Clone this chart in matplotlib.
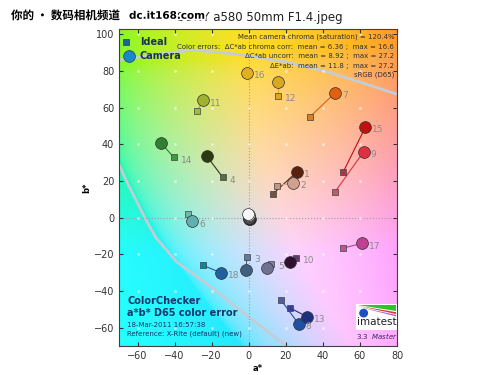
"""ColorChecker a*b* color error plot (imatest style) for SONY a580 50mm F1.4."""
import numpy as np
import matplotlib
matplotlib.use("Agg")
import matplotlib.pyplot as plt
from matplotlib import patheffects
from matplotlib.patches import Rectangle, Polygon, Circle

# patch numbers and a*b* values (ideal = square, camera = circle)
PATCH = list(range(1, 25))
IDEAL_A = [13, 15, -1, -14, 12, -33, 33, 17.5, 46.5, 25.5, -28, 16, 22, -40.5, 51, -2, 51, -24.5,
           0, 0, 0, 0, 0, 0]
IDEAL_B = [13, 17.5, -21.5, 22, -25, 2, 55, -45, 14, -22, 58, 66.5, -49, 33, 25, 79, -16.5, -26,
           1, 0.5, 0, 0, 0, -0.5]
CAM_A = [26, 24, -1.5, -22.5, 10, -30.5, 46.5, 27, 62, 22.5, -24.5, 16, 31.5, -47.5, 63, -1, 61, -15,
         -0.3, 0, 0.2, 0.3, 0.4, 0.5]
CAM_B = [25, 19, -28.5, 33.5, -27.5, -2, 68, -58, 36, -24, 64, 74, -54, 41, 49.5, 79, -14, -30,
         2.2, 1.5, 0.8, 0, -0.5, -0.8]

IDEAL_COL = ["#735244", "#c29682", "#627a9d", "#576c43", "#8580b1", "#67bdaa", "#d67e2c", "#505ba6",
             "#c15a63", "#5e3c6c", "#9dbc40", "#e0a32e", "#383d96", "#469449", "#af363c", "#e7c71f",
             "#bb5695", "#0885a1", "#f3f3f2", "#c8c8c8", "#a0a0a0", "#7a7a79", "#555555", "#343434"]
CAM_COL = ["#5a2010", "#d0a090", "#406080", "#2c3a10", "#707090", "#60b0b0", "#e06010", "#2050a0",
           "#e03040", "#301030", "#a0b030", "#d8a820", "#203080", "#308030", "#c01010", "#e0b020",
           "#c04090", "#2060a0", "#f8f8f8", "#d0d0d0", "#909090", "#505050", "#202020", "#000000"]

# sRGB gamut boundary (light gray curves)
GAMUT_TOP_A = [-70, -50, -30, -5, 20, 41, 60, 81]
GAMUT_TOP_B = [86, 89, 91.5, 89, 85, 80, 74, 67]
GAMUT_LOW_A = [-70, -65, -60, -55, -50, -44, -39, -20, 1, 18, 25]
GAMUT_LOW_B = [29, 18, 8, -2, -11, -18, -24, -38, -55, -68, -73]

STATS = ["Mean camera chroma (saturation) = 120.4%",
         "Color errors:  \u0394C*ab chroma corr:  mean = 6.36 ;  max = 16.6",
         "\u0394C*ab uncorr:  mean = 8.92 ;  max = 27.2",
         "\u0394E*ab:  mean = 11.8 ;  max = 27.2",
         "sRGB (D65)"]


def lab_to_rgb(L, a, b):
    fy = (L + 16) / 116.0
    fx = fy + a / 500.0
    fz = fy - b / 200.0
    d = 6 / 29.0
    finv = lambda t: np.where(t > d, t ** 3, 3 * d * d * (t - 4 / 29.0))
    X, Y, Z = 0.95047 * finv(fx), finv(fy), 1.08883 * finv(fz)
    r = 3.2406 * X - 1.5372 * Y - 0.4986 * Z
    g = -0.9689 * X + 1.8758 * Y + 0.0415 * Z
    bb = 0.0557 * X - 0.2040 * Y + 1.0570 * Z
    rgb = np.clip(np.stack([r, g, bb], axis=-1), 0, 1)
    return np.where(rgb > 0.0031308, 1.055 * rgb ** (1 / 2.4) - 0.055, 12.92 * rgb)


fig = plt.figure(figsize=(5, 3.75), dpi=100)
ax = fig.add_axes([0.238, 0.077, 0.556, 0.846])
XL, YL = (-70, 80), (-70, 103)

aa, bg = np.meshgrid(np.linspace(*XL, 300), np.linspace(*YL, 340))
img = lab_to_rgb(np.full_like(aa, 87.0), aa, bg)
img = 0.85 * img + 0.15          # a bit paler, like the reference
ax.imshow(img, extent=(*XL, *YL), origin="lower", aspect="auto", zorder=0, interpolation="bilinear")

ax.plot(GAMUT_TOP_A, GAMUT_TOP_B, color="#c4ccd6", lw=2, zorder=1)
ax.plot(GAMUT_LOW_A, GAMUT_LOW_B, color="#c4ccd6", lw=2, zorder=1)
ax.axhline(0, color="#a0a0a0", ls=":", lw=0.8, zorder=1)
ax.axvline(0, color="#a0a0a0", ls=":", lw=0.8, zorder=1)
gx, gy = np.meshgrid(np.arange(-60, 81, 20), np.arange(-60, 101, 20))
ax.scatter(gx.ravel(), gy.ravel(), s=4, c="white", alpha=0.6, lw=0, zorder=1)

for i, p in enumerate(PATCH):
    ax.plot([IDEAL_A[i], CAM_A[i]], [IDEAL_B[i], CAM_B[i]], color=CAM_COL[i], lw=0.8, zorder=2)
    ax.plot(IDEAL_A[i], IDEAL_B[i], "s", ms=5, mfc=IDEAL_COL[i], mec="#404040", mew=0.5, zorder=3)
# neutrals drawn black first so the white one sits on top
order = list(range(18)) + list(range(23, 17, -1))
for i in order:
    p = PATCH[i]
    ax.plot(CAM_A[i], CAM_B[i], "o", ms=8.5, mfc=CAM_COL[i], mec="#303030", mew=0.5, zorder=4)
    if p > 18:
        continue
    # label goes to the right of the rightmost end
    if CAM_A[i] > IDEAL_A[i]:
        xa, yb = CAM_A[i], CAM_B[i]
    else:
        xa, yb = IDEAL_A[i], IDEAL_B[i]
    ax.annotate(str(p), (xa, yb), xytext=(5, -2), textcoords="offset points",
                fontsize=6.5, color="#8a8a8a", va="center", zorder=5)

# legend
ax.plot(0.025, 0.959, "s", ms=5, mfc="#1868a0", mec="#204060", mew=0.5, transform=ax.transAxes, zorder=6)
ax.plot(0.036, 0.913, "o", ms=8.5, mfc="#1888c8", mec="#204060", mew=0.5, transform=ax.transAxes, zorder=6)
ax.text(0.075, 0.959, "Ideal", transform=ax.transAxes, fontsize=7, fontweight="bold",
        color="#1a3550", va="center", zorder=6)
ax.text(0.075, 0.913, "Camera", transform=ax.transAxes, fontsize=7, fontweight="bold",
        color="#1a3550", va="center", zorder=6)

ys = [0.975, 0.944, 0.914, 0.884, 0.854]
for s, y in zip(STATS, ys):
    ax.text(0.99, y, s, transform=ax.transAxes, ha="right", va="center", fontsize=5,
            color="#303030", zorder=6)

ax.text(0.03, 0.142, "ColorChecker", transform=ax.transAxes, fontsize=7, fontweight="bold",
        color="#15356a", va="center", zorder=6)
ax.text(0.03, 0.104, "a*b* D65 color error", transform=ax.transAxes, fontsize=7, fontweight="bold",
        color="#15356a", va="center", zorder=6)
ax.text(0.03, 0.066, "18-Mar-2011 16:57:38", transform=ax.transAxes, fontsize=5,
        color="#15356a", va="center", zorder=6)
ax.text(0.03, 0.038, "Reference: X-Rite (default) (new)", transform=ax.transAxes, fontsize=5,
        color="#15356a", va="center", zorder=6)

# imatest logo
ax.add_patch(Rectangle((58, -61), 22, 14, fc="white", ec="none", zorder=6))
ax.add_patch(Polygon([(59, -47.5), (79.5, -47.5), (79.5, -51)], fc="#30c030", ec="none", zorder=7))
ax.add_patch(Polygon([(59, -48), (79.5, -51.5), (79.5, -52.5)], fc="#e03030", ec="none", zorder=7))
ax.add_patch(Polygon([(59, -48.5), (79.5, -53), (79.5, -53.8)], fc="#c050c0", ec="none", zorder=7))
ax.add_patch(Circle((62, -52), 2.4, fc="#2050c0", ec="none", zorder=8))
ax.text(69, -57, "imatest", fontsize=7.5, color="#202020", ha="center", va="center", zorder=8)
ax.text(69, -64.5, "3.3  $\\it{Master}$", fontsize=5, color="#402060", ha="center", va="center", zorder=8)

ax.set_xlim(*XL)
ax.set_ylim(*YL)
ax.set_xticks(range(-60, 81, 20))
ax.set_yticks(range(-60, 101, 20))
ax.tick_params(direction="in", length=3, top=True, right=True, labelsize=7, colors="#333333")
for sp in ax.spines.values():
    sp.set_color("#404040")
    sp.set_linewidth(0.8)
ax.set_xlabel("a*", fontsize=6, fontweight="bold", labelpad=2)
ax.set_ylabel("b*", fontsize=6, fontweight="bold", labelpad=2)

fig.text(0.52, 0.952, "SONY a580 50mm F1.4.jpeg", ha="center", va="center", fontsize=8.5, color="#202020")
wm = [patheffects.withStroke(linewidth=2.5, foreground="white")]
fig.text(0.022, 0.958, "你的 \u2022 数码相机频道", fontsize=8.3, fontweight="bold", color="black",
         family=["Noto Sans CJK SC", "DejaVu Sans"], va="center", path_effects=wm)
fig.text(0.258, 0.958, "dc.it168.com", fontsize=7.5, fontweight="bold", color="black",
         va="center", path_effects=wm)

fig.savefig("out.png", dpi=100)
